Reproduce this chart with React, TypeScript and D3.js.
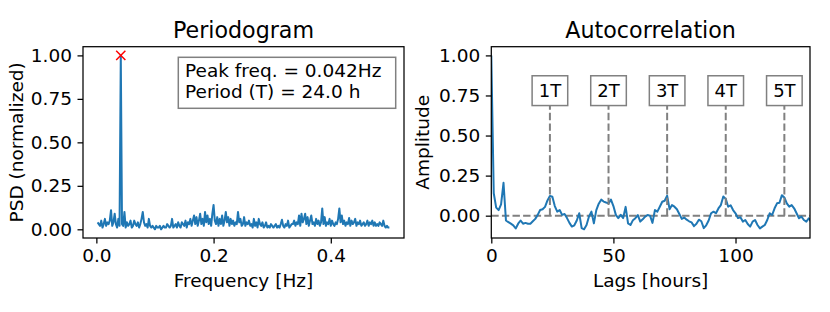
import React, { useRef, useEffect } from 'react';
import * as d3 from 'd3';

// periodogram, bins k/480 for k = 1..240 (hourly samples, 20 days)
const psdBinCount = 480;
const psdValues: number[] = [
    0.04, 0.03, 0.02, 0.05, 0.01, 0.03, 0.06, 0.02, 0.04, 0.03, 0.05, 0.11, 0.02, 0.04, 0.09, 0.03, 0.01, 0.06, 0.02, 1.00,
    0.03, 0.02, 0.10, 0.01, 0.04, 0.02, 0.03, 0.05, 0.01, 0.02, 0.05, 0.03, 0.02, 0.04, 0.01, 0.03, 0.06, 0.10, 0.04, 0.02,
    0.03, 0.01, 0.06, 0.02, 0.01, 0.02, 0.01, 0.00, 0.02, 0.01, 0.01, 0.02, 0.00, 0.01, 0.02, 0.01, 0.01, 0.03, 0.02, 0.01,
    0.02, 0.06, 0.01, 0.02, 0.03, 0.01, 0.04, 0.02, 0.01, 0.04, 0.03, 0.02, 0.05, 0.01, 0.04, 0.03, 0.06, 0.02, 0.05, 0.08,
    0.03, 0.07, 0.02, 0.05, 0.09, 0.03, 0.06, 0.02, 0.10, 0.04, 0.08, 0.03, 0.06, 0.02, 0.09, 0.14, 0.05, 0.03, 0.07, 0.02,
    0.06, 0.03, 0.08, 0.02, 0.05, 0.10, 0.04, 0.07, 0.02, 0.06, 0.03, 0.05, 0.02, 0.04, 0.03, 0.10, 0.04, 0.06, 0.02, 0.03,
    0.07, 0.02, 0.04, 0.03, 0.05, 0.02, 0.03, 0.01, 0.06, 0.02, 0.04, 0.01, 0.06, 0.03, 0.02, 0.04, 0.01, 0.02, 0.04, 0.01,
    0.02, 0.01, 0.03, 0.02, 0.01, 0.02, 0.03, 0.01, 0.02, 0.01, 0.03, 0.055, 0.02, 0.01, 0.03, 0.02, 0.05, 0.01, 0.02, 0.03,
    0.03, 0.05, 0.02, 0.04, 0.03, 0.08, 0.02, 0.09, 0.04, 0.06, 0.09, 0.03, 0.07, 0.02, 0.05, 0.08, 0.03, 0.04, 0.02, 0.06,
    0.03, 0.05, 0.02, 0.04, 0.12, 0.03, 0.07, 0.02, 0.04, 0.03, 0.06, 0.02, 0.05, 0.03, 0.02, 0.04, 0.03, 0.06, 0.12, 0.04,
    0.08, 0.03, 0.05, 0.02, 0.04, 0.03, 0.065, 0.02, 0.05, 0.03, 0.04, 0.06, 0.02, 0.04, 0.03, 0.05, 0.02, 0.03, 0.04, 0.02,
    0.03, 0.05, 0.02, 0.04, 0.03, 0.05, 0.02, 0.04, 0.02, 0.03, 0.02, 0.04, 0.03, 0.02, 0.05, 0.02, 0.01, 0.02, 0.01, 0.01,
];

// autocorrelation at lags 0..131 hours
const acfValues: number[] = [
    1.0, 0.14, 0.05, 0.035, 0.07, 0.205, -0.03, -0.04, -0.05, -0.06,
    -0.08, -0.05, -0.03, -0.05, -0.045, -0.05, -0.05, -0.035, -0.02, 0.005,
    0.035, 0.04, 0.055, 0.095, 0.123, 0.118, 0.06, 0.025, 0.035, 0.005,
    0.01, -0.015, -0.045, -0.068, -0.06, -0.03, 0.015, -0.078, -0.085, -0.058,
    -0.005, 0.025, -0.048, 0.035, 0.075, 0.10, 0.088, 0.082, 0.077, 0.10,
    0.06, 0.005, -0.015, 0.005, -0.015, 0.055, -0.048, -0.058, -0.028, -0.016,
    0.004, -0.037, -0.023, -0.006, 0.004, 0.0, -0.045, 0.035, 0.025, 0.056,
    0.087, 0.093, 0.125, 0.04, 0.066, 0.056, 0.04, 0.01, -0.02, -0.012,
    -0.025, -0.035, -0.042, -0.065, -0.05, -0.025, -0.035, -0.078, -0.06, -0.03,
    0.015, 0.025, 0.015, 0.045, 0.066, 0.12, 0.105, 0.056, 0.065, 0.035,
    0.015, -0.015, -0.01, -0.037, -0.027, -0.052, -0.068, -0.037, -0.027, -0.058,
    -0.079, -0.068, -0.058, -0.027, 0.015, 0.004, 0.046, 0.077, 0.081, 0.128,
    0.114, 0.077, 0.056, 0.066, 0.046, 0.015, -0.016, -0.006, -0.027, -0.037,
    -0.016, -0.04,
];

const periodLags = [24, 48, 72, 96, 120];
const periodLabels = ['1T', '2T', '3T', '4T', '5T'];
const peakFreq = 20 / psdBinCount;
const infoLines = ['Peak freq. = 0.042Hz', 'Period (T) = 24.0 h'];

const W = 830;
const H = 312;
const FONT = "'DejaVu Sans', sans-serif";
const BLUE = '#1f77b4';
const GRAY = '#808080';

export default function App() {
    const svgRef = useRef<SVGSVGElement>(null);

    useEffect(() => {
        if (!svgRef.current) return;
        const svg = d3.select(svgRef.current);
        svg.selectAll('*').remove();

        const top = 46.7, bottom = 238;

        const styleAxis = (g: d3.Selection<SVGGElement, unknown, null, undefined>) => {
            g.select('.domain').remove();
            g.selectAll('.tick line').attr('stroke', '#000').attr('stroke-width', 1.25);
            g.selectAll('.tick text').attr('font-family', FONT).attr('font-size', 18.5).attr('fill', '#000');
        };

        // ---------- left: periodogram ----------
        const L = { x0: 83, x1: 404 };
        const freqs = psdValues.map((_, i) => (i + 1) / psdBinCount);
        const x1 = d3.scaleLinear().domain([-0.0228, 0.5249]).range([L.x0, L.x1]);
        const y1 = d3.scaleLinear().domain([-0.05, 1.05]).range([bottom, top]);

        const g1 = svg.append('g');
        g1.append('path')
            .datum(psdValues)
            .attr('fill', 'none')
            .attr('stroke', BLUE)
            .attr('stroke-width', 2)
            .attr('stroke-linejoin', 'round')
            .attr('d', d3.line<number>().x((d, i) => x1(freqs[i])).y(d => y1(d)));

        // peak marker
        const px = x1(peakFreq), py = y1(1.0), r = 4.6;
        g1.append('path')
            .attr('d', `M${px - r},${py - r}L${px + r},${py + r}M${px - r},${py + r}L${px + r},${py - r}`)
            .attr('stroke', 'red')
            .attr('stroke-width', 1.5);

        g1.append('g')
            .attr('transform', `translate(0,${bottom})`)
            .call(d3.axisBottom(x1).tickValues([0, 0.2, 0.4]).tickFormat(d3.format('.1f')).tickSize(5.5).tickPadding(5.5))
            .call(styleAxis);
        g1.append('g')
            .attr('transform', `translate(${L.x0},0)`)
            .call(d3.axisLeft(y1).tickValues([0, 0.25, 0.5, 0.75, 1]).tickFormat(d3.format('.2f')).tickSize(5.5).tickPadding(5.5))
            .call(styleAxis);

        g1.append('rect')
            .attr('x', L.x0).attr('y', top)
            .attr('width', L.x1 - L.x0).attr('height', bottom - top)
            .attr('fill', 'none').attr('stroke', '#000').attr('stroke-width', 1.25);

        // info box
        g1.append('rect')
            .attr('x', 178.3).attr('y', 57.3).attr('width', 217.4).attr('height', 51)
            .attr('fill', '#fff').attr('stroke', GRAY).attr('stroke-width', 1.5);
        g1.selectAll('text.info')
            .data(infoLines)
            .join('text')
            .attr('class', 'info')
            .attr('x', 185)
            .attr('y', (d, i) => 76.7 + i * 21.6)
            .attr('font-family', FONT).attr('font-size', 18.5)
            .text(d => d);

        g1.append('text')
            .attr('x', (L.x0 + L.x1) / 2).attr('y', 38.3)
            .attr('text-anchor', 'middle')
            .attr('font-family', FONT).attr('font-size', 22.2)
            .text('Periodogram');
        g1.append('text')
            .attr('x', (L.x0 + L.x1) / 2).attr('y', 286.5)
            .attr('text-anchor', 'middle')
            .attr('font-family', FONT).attr('font-size', 18.5)
            .text('Frequency [Hz]');
        g1.append('text')
            .attr('transform', `translate(23,${(top + bottom) / 2}) rotate(-90)`)
            .attr('text-anchor', 'middle')
            .attr('font-family', FONT).attr('font-size', 18.5)
            .text('PSD (normalized)');

        // ---------- right: autocorrelation ----------
        const R = { x0: 491.3, x1: 810 };
        const x2 = d3.scaleLinear().domain([0, 130.5]).range([R.x0, R.x1]);
        const y2 = d3.scaleLinear().domain([-0.1393, 1.0543]).range([bottom, top]);

        const defs = svg.append('defs');
        defs.append('clipPath').attr('id', 'acf-clip')
            .append('rect')
            .attr('x', R.x0).attr('y', top)
            .attr('width', R.x1 - R.x0).attr('height', bottom - top);

        const g2 = svg.append('g');
        const plot = g2.append('g').attr('clip-path', 'url(#acf-clip)');

        plot.append('line')
            .attr('x1', R.x0).attr('x2', R.x1)
            .attr('y1', y2(0)).attr('y2', y2(0))
            .attr('stroke', GRAY).attr('stroke-width', 2).attr('stroke-dasharray', '7.4 3.2');

        plot.append('path')
            .datum(acfValues)
            .attr('fill', 'none')
            .attr('stroke', BLUE)
            .attr('stroke-width', 2)
            .attr('stroke-linejoin', 'round')
            .attr('d', d3.line<number>().x((d, i) => x2(i)).y(d => y2(d)));

        plot.selectAll('line.vl')
            .data(periodLags)
            .join('line')
            .attr('class', 'vl')
            .attr('x1', d => x2(d)).attr('x2', d => x2(d))
            .attr('y1', y2(0)).attr('y2', y2(0.78))
            .attr('stroke', GRAY).attr('stroke-width', 2).attr('stroke-dasharray', '7.4 3.2');

        const labels = plot.selectAll('g.lbl')
            .data(periodLags)
            .join('g')
            .attr('class', 'lbl')
            .attr('transform', d => `translate(${x2(d)},${y2(0.78)})`);
        labels.append('rect')
            .attr('x', -17.8).attr('y', -14.9).attr('width', 35.6).attr('height', 29.8)
            .attr('fill', '#fff').attr('stroke', GRAY).attr('stroke-width', 1.5);
        labels.append('text')
            .attr('text-anchor', 'middle')
            .attr('y', 6.6)
            .attr('font-family', FONT).attr('font-size', 18)
            .text((d, i) => periodLabels[i]);

        g2.append('g')
            .attr('transform', `translate(0,${bottom})`)
            .call(d3.axisBottom(x2).tickValues([0, 50, 100]).tickFormat(d3.format('d')).tickSize(5.5).tickPadding(5.5))
            .call(styleAxis);
        g2.append('g')
            .attr('transform', `translate(${R.x0},0)`)
            .call(d3.axisLeft(y2).tickValues([0, 0.25, 0.5, 0.75, 1]).tickFormat(d3.format('.2f')).tickSize(5.5).tickPadding(5.5))
            .call(styleAxis);

        g2.append('rect')
            .attr('x', R.x0).attr('y', top)
            .attr('width', R.x1 - R.x0).attr('height', bottom - top)
            .attr('fill', 'none').attr('stroke', '#000').attr('stroke-width', 1.25);

        g2.append('text')
            .attr('x', (R.x0 + R.x1) / 2).attr('y', 38.3)
            .attr('text-anchor', 'middle')
            .attr('font-family', FONT).attr('font-size', 22.2)
            .text('Autocorrelation');
        g2.append('text')
            .attr('x', (R.x0 + R.x1) / 2).attr('y', 286.5)
            .attr('text-anchor', 'middle')
            .attr('font-family', FONT).attr('font-size', 18.5)
            .text('Lags [hours]');
        g2.append('text')
            .attr('transform', `translate(429,${(top + bottom) / 2}) rotate(-90)`)
            .attr('text-anchor', 'middle')
            .attr('font-family', FONT).attr('font-size', 18.5)
            .text('Amplitude');
    }, []);

    return (
        <svg
            ref={svgRef}
            width={W}
            height={H}
            viewBox={`0 0 ${W} ${H}`}
            style={{ position: 'absolute', left: 0, top: 0, background: '#fff' }}
        />
    );
}
